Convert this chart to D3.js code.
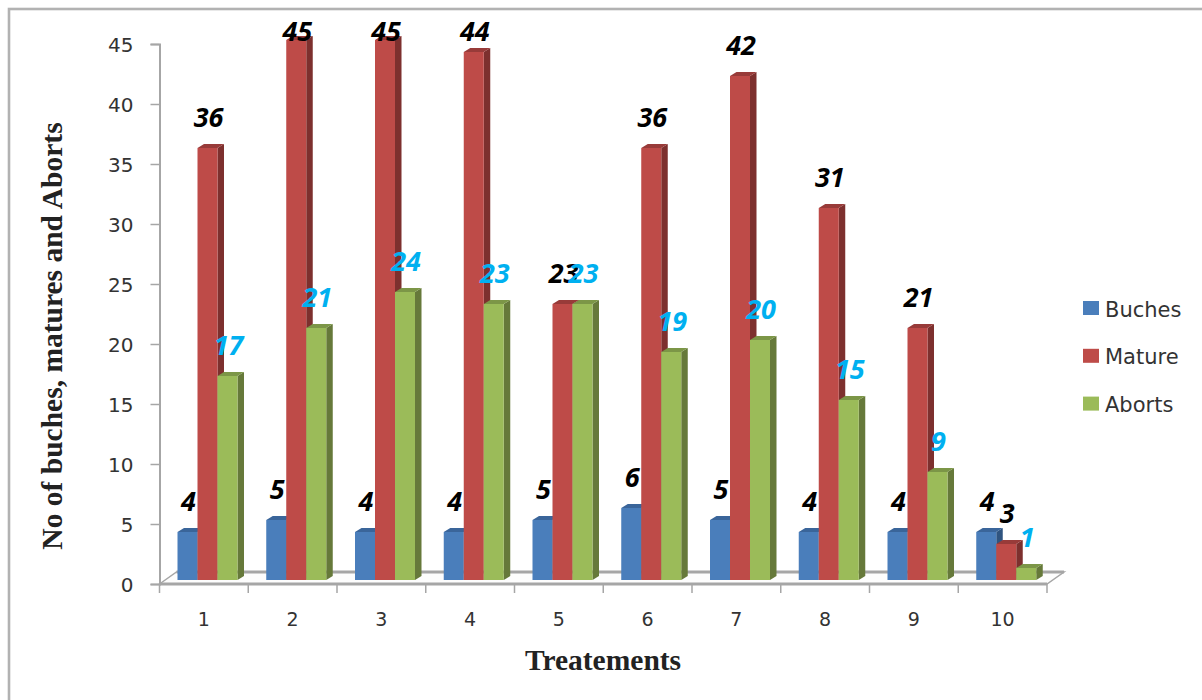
<!DOCTYPE html>
<html>
<head>
<meta charset="utf-8">
<script src="https://cdn.jsdelivr.net/npm/d3@7/dist/d3.min.js"></script>
<style>
html,body{margin:0;padding:0;background:#fff;overflow:hidden;}
svg{display:block;}
</style>
</head>
<body>
<svg id="chart" width="1202" height="700"></svg>
<script>
const categories = ["1","2","3","4","5","6","7","8","9","10"];
const seriesNames = ["Buches","Mature","Aborts"];
const buches = [4,5,4,4,5,6,5,4,4,4];
const mature = [36,45,45,44,23,36,42,31,21,3];
const aborts = [17,21,24,23,23,19,20,15,9,1];
const yTicks = [0,5,10,15,20,25,30,35,40,45];

const faces = {
  Buches:{front:"#4a7ebb",top:"#3a659a",side:"#2f5480"},
  Mature:{front:"#be4b48",top:"#983b39",side:"#7d302e"},
  Aborts:{front:"#9bbb59",top:"#7c9647",side:"#66793a"}
};
const labelColor = {Buches:"#000",Mature:"#000",Aborts:"#00b0f0"};

const svg = d3.select("#chart");
// outer frame runs off the right and bottom edges of the page
svg.append("rect").attr("x",9).attr("y",9).attr("width",1300).attr("height",800)
  .attr("fill","#fff").attr("stroke","#b2b2b2").attr("stroke-width",2.6);

const y = d3.scaleLinear().domain([0,45]).range([584,44]);
const x = d3.scaleBand().domain(categories).range([159.5,1047]).paddingInner(0).paddingOuter(0);
const depth = {dx:17,dy:12};   // floor depth of the 3D box
const barInset = 18, barW = 20, barDx = 6.5, barDy = 4, baseY = -4;

// floor
const axisGrey = "#a6a6a6";
svg.append("path").attr("fill","#fdfdfd").attr("stroke",axisGrey).attr("stroke-width",1.5)
  .attr("d",`M${x.range()[0]},${y(0)}L${x.range()[0]+depth.dx},${y(0)-depth.dy}L${x.range()[1]+depth.dx},${y(0)-depth.dy}L${x.range()[1]},${y(0)}Z`);
svg.append("line").attr("x1",x.range()[0]+depth.dx).attr("x2",x.range()[1]+depth.dx)
  .attr("y1",y(0)-depth.dy).attr("y2",y(0)-depth.dy).attr("stroke",axisGrey).attr("stroke-width",3);
svg.append("line").attr("x1",x.range()[0]).attr("x2",x.range()[1])
  .attr("y1",y(0)).attr("y2",y(0)).attr("stroke",axisGrey).attr("stroke-width",3);

// axes
const yAxis = d3.axisLeft(y).tickValues(yTicks).tickSize(9).tickPadding(17);
const gy = svg.append("g").attr("transform",`translate(${x.range()[0]},0)`).call(yAxis);
gy.select(".domain").attr("stroke",axisGrey).attr("stroke-width",2);
gy.selectAll(".tick line").attr("stroke",axisGrey).attr("stroke-width",1.5);
gy.selectAll("text").attr("font-family","DejaVu Sans").attr("font-size",20).attr("fill","#333").attr("dy","0.38em");

const xAxis = d3.axisBottom(x).tickSize(0).tickPadding(29);
const gx = svg.append("g").attr("transform",`translate(0,${y(0)})`).call(xAxis);
gx.select(".domain").remove();
gx.selectAll("text").attr("font-family","DejaVu Sans").attr("font-size",19).attr("fill","#333");
svg.append("g").selectAll("line").data(d3.range(categories.length+1)).join("line")
  .attr("x1",i=>x.range()[0]+i*x.step()).attr("x2",i=>x.range()[0]+i*x.step())
  .attr("y1",y(0)).attr("y2",y(0)+9).attr("stroke",axisGrey).attr("stroke-width",1.5);

// bars: one box per value, drawn left to right so each front covers its neighbour's side
const table = [buches,mature,aborts];
const gBars = svg.append("g");
categories.forEach((c,ci)=>{
  seriesNames.forEach((s,si)=>{
    const v = table[si][ci];
    const x0 = x(c)+barInset+si*barW, x1 = x0+barW;
    const yb = y(0)+baseY, yt = y(v)+baseY;
    const f = faces[s];
    gBars.append("path").attr("fill",f.side)
      .attr("d",`M${x1},${yb}L${x1+barDx},${yb-barDy}L${x1+barDx},${yt-barDy}L${x1},${yt}Z`);
    gBars.append("path").attr("fill",f.top)
      .attr("d",`M${x0},${yt}L${x0+barDx},${yt-barDy}L${x1+barDx},${yt-barDy}L${x1},${yt}Z`);
    gBars.append("rect").attr("x",x0).attr("y",yt).attr("width",barW).attr("height",yb-yt).attr("fill",f.front);
  });
});

// value labels sit above each bar, held below the top of the plot for the tallest bars
const labelMinY = 41;
const gLabels = svg.append("g").attr("font-family","Open Sans").attr("font-weight","bold")
  .attr("font-style","italic").attr("font-size",27).attr("text-anchor","middle");
categories.forEach((c,ci)=>{
  seriesNames.forEach((s,si)=>{
    const v = table[si][ci];
    const cx = x(c)+barInset+si*barW+barW/2+1;
    gLabels.append("text").attr("x",cx).attr("y",Math.max(y(v)-25,labelMinY)).attr("fill",labelColor[s]).text(v);
  });
});

// legend
const leg = svg.append("g").selectAll("g").data(seriesNames).join("g")
  .attr("transform",(d,i)=>`translate(1083,${301+i*47.8})`);
leg.append("rect").attr("width",16).attr("height",14).attr("fill",d=>faces[d].front);
leg.append("text").attr("x",22).attr("y",15.5).attr("font-family","DejaVu Sans").attr("font-size",21)
  .attr("fill","#333").text(d=>d);

// axis titles
svg.append("text").attr("x",603).attr("y",670).attr("text-anchor","middle")
  .attr("font-family","Liberation Serif").attr("font-weight","bold").attr("font-size",29.5).attr("fill","#222").text("Treatements");
svg.append("text").attr("transform","translate(62,336) rotate(-90)").attr("text-anchor","middle")
  .attr("font-family","Liberation Serif").attr("font-weight","bold").attr("font-size",29.5).attr("fill","#222").text("No of buches, matures and Aborts");
</script>
</body>
</html>
